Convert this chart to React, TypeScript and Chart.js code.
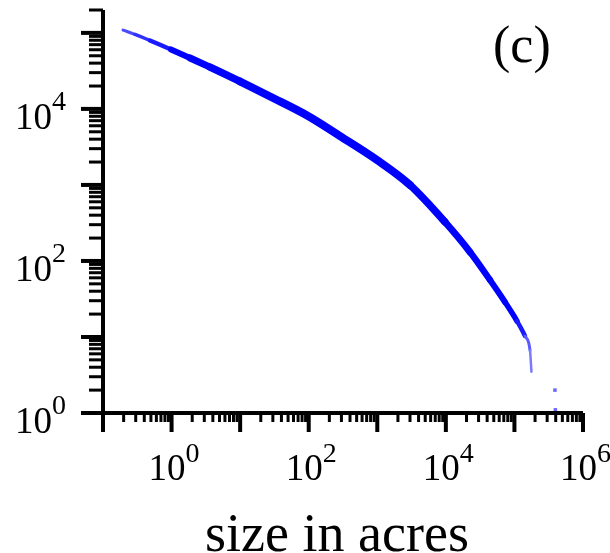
import React, { useEffect, useRef } from "react";
import { Chart, registerables } from "chart.js";

Chart.register(...registerables);

// Fire size (acres) vs. number of fires at least that size
const sizeAcres = [
  0.196, 0.293, 0.484, 0.981, 1.86, 3.64, 9.95, 27.3, 97.6, 286, 990, 3000,
  9720, 22500, 44000, 72900, 109000, 142600, 168700, 177000,
];
const fireCounts = [
  109000, 95300, 79400, 60500, 46800, 35400, 22950, 14560, 8070, 4400, 2130,
  998, 325, 131, 56.2, 28.8, 16.2, 10.3, 6.7, 3.5,
];
const largestSizes = [390000, 395000];
const largestCounts = [2, 1.1];

const xLabelExponents = [0, 2, 4, 6];
const yLabelExponents = [0, 2, 4];
const xAxisTitle = "size in acres";
const panelLabel = "(c)";

const X_MIN = 0.1;
const X_MAX = 1e6;
const Y_MIN = 1;
const Y_MAX = 2e5;

const FONT = '"Liberation Serif", "Times New Roman", Times, serif';

function logTickValues(min: number, max: number) {
  const out: { v: number; major: boolean }[] = [];
  const e0 = Math.floor(Math.log10(min));
  const e1 = Math.ceil(Math.log10(max));
  for (let e = e0; e <= e1; e++) {
    for (let m = 1; m <= 9; m++) {
      const v = m * Math.pow(10, e);
      if (v >= min * 0.999 && v <= max * 1.001) out.push({ v, major: m === 1 });
    }
  }
  return out;
}

const axesPlugin = {
  id: "logAxesPlugin",
  afterDatasetsDraw(chart: any) {
    const ctx = chart.ctx as CanvasRenderingContext2D;
    const xs = chart.scales.x;
    const ys = chart.scales.y;
    const area = chart.chartArea;
    ctx.save();
    ctx.strokeStyle = "#000";
    ctx.fillStyle = "#000";
    ctx.lineCap = "butt";

    // axis lines
    ctx.lineWidth = 4;
    ctx.beginPath();
    ctx.moveTo(area.left, area.top);
    ctx.lineTo(area.left, area.bottom);
    ctx.moveTo(area.left, area.bottom);
    ctx.lineTo(area.right, area.bottom);
    ctx.stroke();

    // y ticks (outward, to the left)
    for (const t of logTickValues(Y_MIN, Y_MAX)) {
      const py = ys.getPixelForValue(t.v);
      ctx.lineWidth = t.major ? 4 : 3;
      ctx.beginPath();
      ctx.moveTo(area.left - (t.major ? 22 : 14), py);
      ctx.lineTo(area.left, py);
      ctx.stroke();
    }
    // x ticks (outward, downward)
    for (const t of logTickValues(X_MIN, X_MAX)) {
      const px = xs.getPixelForValue(t.v);
      ctx.lineWidth = t.major ? 4 : 3;
      ctx.beginPath();
      ctx.moveTo(px, area.bottom);
      ctx.lineTo(px, area.bottom + (t.major ? 19 : 9));
      ctx.stroke();
    }

    // y tick labels 10^n
    for (const e of yLabelExponents) {
      const py = ys.getPixelForValue(Math.pow(10, e));
      const xr = area.left - 51;
      ctx.font = `37px ${FONT}`;
      ctx.textAlign = "right";
      ctx.textBaseline = "alphabetic";
      ctx.fillText("10", xr, py + 20);
      ctx.font = `28px ${FONT}`;
      ctx.textAlign = "left";
      ctx.fillText(String(e), xr, py + 1);
    }
    // x tick labels 10^n
    for (const e of xLabelExponents) {
      const px = xs.getPixelForValue(Math.pow(10, e));
      const xr = px + 14;
      ctx.font = `37px ${FONT}`;
      ctx.textAlign = "right";
      ctx.textBaseline = "alphabetic";
      ctx.fillText("10", xr, area.bottom + 67);
      ctx.font = `28px ${FONT}`;
      ctx.textAlign = "left";
      ctx.fillText(String(e), xr, area.bottom + 49);
    }

    // axis title
    ctx.font = `54px ${FONT}`;
    ctx.textAlign = "center";
    ctx.fillText(xAxisTitle, (area.left + area.right) / 2 - 6, area.bottom + 138);

    // panel label
    ctx.font = `52px ${FONT}`;
    ctx.textAlign = "left";
    ctx.fillText(panelLabel, 493, 62);

    ctx.restore();
  },
};

// line width / colour of each curve segment (by its starting point index)
const segWidths = [3, 3.5, 4.5, 6, 7, 7.5, 8, 8, 8, 8, 8, 7.5, 7, 6.5, 6, 5.5, 4.5, 3, 2.5];
const segColors = [
  "#4a4aff", "#3030ff", "#1a1aff", "#0000ff", "#0000ff", "#0000ff", "#0000ff",
  "#0000ff", "#0000ff", "#0000ff", "#0000ff", "#0000ff", "#0000ff", "#0000ff",
  "#0000ff", "#0000ff", "#1a1aff", "#5a5aff", "#7a7aff",
];

export default function App() {
  const canvasRef = useRef<HTMLCanvasElement | null>(null);

  useEffect(() => {
    if (!canvasRef.current) return;
    const chart = new Chart(canvasRef.current, {
      type: "scatter",
      data: {
        datasets: [
          {
            data: sizeAcres.map((s, i) => ({ x: s, y: fireCounts[i] })),
            showLine: true,
            borderColor: "#0000ff",
            backgroundColor: "#0000ff",
            borderWidth: 8,
            pointRadius: 0,
            cubicInterpolationMode: "monotone",
            borderCapStyle: "round",
            borderJoinStyle: "round",
            segment: {
              borderWidth: (c: any) => segWidths[c.p0DataIndex] ?? 3,
              borderColor: (c: any) => segColors[c.p0DataIndex] ?? "#0000ff",
            },
          } as any,
          {
            data: largestSizes.map((s, i) => ({ x: s, y: largestCounts[i] })),
            showLine: false,
            pointStyle: "rect",
            pointRadius: 2.5,
            borderWidth: 0,
            backgroundColor: "rgba(80,80,255,0.85)",
            clip: false,
          } as any,
        ],
      },
      options: {
        responsive: false,
        maintainAspectRatio: false,
        animation: false,
        layout: { padding: { left: 103, right: 27, top: 10, bottom: 140 } },
        plugins: {
          legend: { display: false },
          tooltip: { enabled: false },
          title: { display: false },
        },
        scales: {
          x: { type: "logarithmic", min: X_MIN, max: X_MAX, display: false },
          y: { type: "logarithmic", min: Y_MIN, max: Y_MAX, display: false },
        },
      },
      plugins: [axesPlugin],
    });
    return () => chart.destroy();
  }, []);

  return (
    <div style={{ position: "absolute", left: 0, top: 0, width: 610, height: 553, background: "#fff" }}>
      <canvas ref={canvasRef} width={610} height={553} style={{ display: "block" }} />
    </div>
  );
}
